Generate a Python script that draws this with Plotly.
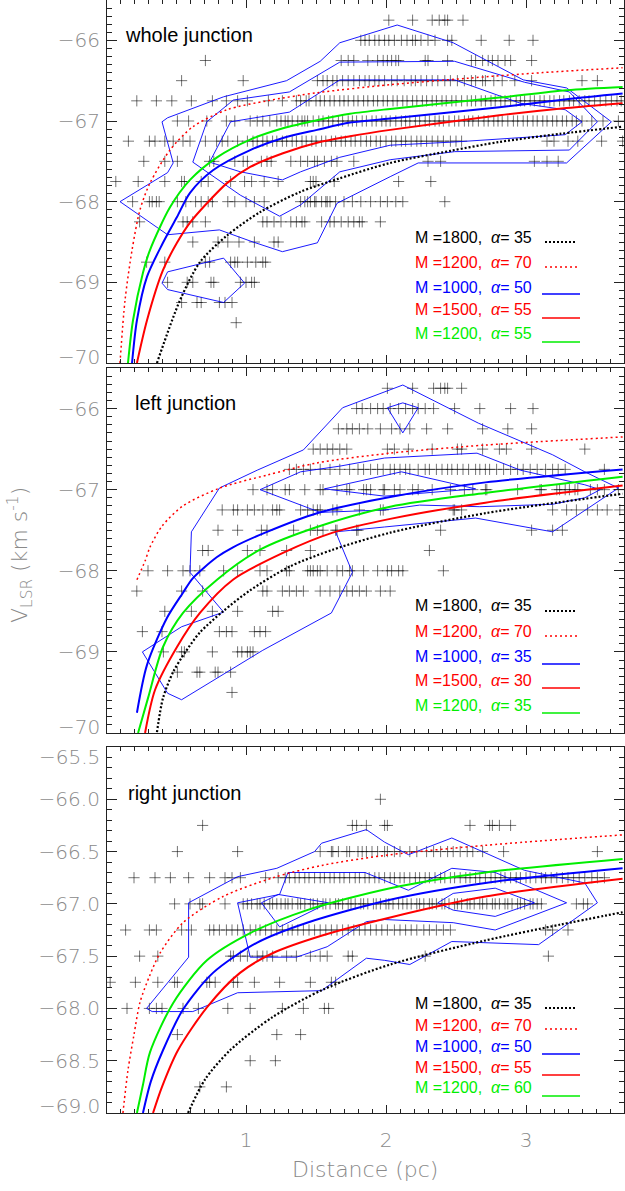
import plotly.graph_objects as go

# ======================= DATA =======================
# Cross rows: velocity channel (km/s) and positions (pc) of the crosses on that row
whole_rows = [-65.75, -66.0, -66.25, -66.5, -66.75, -67.0, -67.25, -67.5,
              -67.75, -68.0, -68.25, -68.5, -68.75, -69.0, -69.25, -69.5]
whole_x = [
    [2.02, 2.19, 2.33, 2.38, 2.42, 2.44, 2.55],
    [1.82, 1.85, 1.88, 1.92, 1.95, 1.99, 2.02, 2.06, 2.11, 2.15, 2.19, 2.21, 2.25, 2.30, 2.35, 2.44, 2.47, 2.68, 2.88, 3.05],
    [0.71, 1.68, 1.73, 1.77, 1.87, 1.94, 1.98, 2.01, 2.04, 2.07, 2.09, 2.28, 2.30, 2.44, 2.61, 2.64, 2.69, 2.73, 2.76, 2.80, 2.85, 2.89, 3.04],
    [0.54, 0.98, 1.51, 1.55, 1.58, 1.62, 1.65, 1.69, 1.73, 1.77, 1.81, 1.85, 1.88, 1.92, 1.95, 1.99, 2.04, 2.08, 2.13, 2.18,
     2.21, 2.25, 2.29, 2.33, 2.37, 2.42, 2.46, 2.51, 2.56, 2.61, 2.64, 2.69, 2.71, 2.77, 2.83, 2.92, 3.04, 3.40, 3.51],
    [0.22, 0.36, 0.47, 0.61, 0.76, 0.86, 0.94, 1.01, 1.16, 1.26, 1.36, 1.39, 1.43, 1.45, 1.50, 1.53, 1.56, 1.60, 1.63, 1.67,
     1.70, 1.73, 1.77, 1.80, 1.84, 1.87, 1.91, 1.94, 1.98, 2.01, 2.05, 2.08, 2.12, 2.15, 2.19, 2.22, 2.26, 2.29, 2.33, 2.36,
     2.40, 2.43, 2.47, 2.50, 2.54, 2.58, 2.61, 2.64, 2.68, 2.71, 2.75, 2.78, 2.82, 2.85, 2.89, 2.93, 2.96, 2.99, 3.03, 3.06,
     3.10, 3.13, 3.17, 3.20, 3.24, 3.27, 3.31, 3.34, 3.38, 3.42, 3.45, 3.49, 3.53, 3.57, 3.61, 3.65, 3.68],
    [0.51, 0.59, 0.72, 0.86, 0.92, 1.03, 1.08, 1.12, 1.17, 1.22, 1.25, 1.28, 1.30, 1.33, 1.37, 1.40, 1.42, 1.44, 1.48, 1.52,
     1.55, 1.59, 1.62, 1.66, 1.69, 1.73, 1.76, 1.79, 1.83, 1.86, 1.90, 1.93, 1.97, 2.00, 2.03, 2.07, 2.11, 2.14, 2.17, 2.21,
     2.24, 2.28, 2.31, 2.35, 2.38, 2.41, 2.45, 2.49, 2.52, 2.56, 2.59, 2.62, 2.66, 2.70, 2.73, 2.77, 2.80, 2.83, 2.87, 2.91,
     2.94, 2.98, 3.01, 3.05, 3.08, 3.12, 3.15, 3.19, 3.22, 3.26, 3.29, 3.33, 3.36, 3.40, 3.47, 3.55, 3.66],
    [0.16, 0.31, 0.35, 0.42, 0.48, 0.55, 0.60, 0.71, 0.79, 0.83, 0.87, 0.94, 1.01, 1.05, 1.08, 1.12, 1.15, 1.19, 1.22, 1.26,
     1.29, 1.33, 1.36, 1.40, 1.43, 1.47, 1.50, 1.54, 1.57, 1.61, 1.64, 1.68, 1.71, 1.75, 1.78, 1.82, 1.86, 1.89, 1.93, 1.96,
     2.00, 2.04, 2.07, 2.11, 2.14, 2.18, 2.22, 2.25, 2.29, 2.33, 2.37, 2.41, 2.46, 2.50, 2.54, 3.15, 3.20, 3.30, 3.37, 3.54, 3.69],
    [0.27, 0.42, 0.51, 0.74, 0.77, 0.92, 0.98, 1.01, 1.11, 1.15, 1.18, 1.32, 1.39, 1.44, 1.49, 1.51, 1.56, 1.61, 1.65, 1.77,
     2.30, 2.39, 3.06, 3.15, 3.23],
    [0.07, 0.23, 0.42, 0.54, 0.56, 0.68, 0.73, 0.89, 0.99, 1.04, 1.13, 1.23, 1.46, 1.48, 1.50, 1.63, 2.09, 2.32],
    [0.19, 0.31, 0.33, 0.36, 0.38, 0.51, 0.57, 0.64, 0.68, 0.73, 0.76, 0.87, 0.92, 1.00, 1.06, 1.13, 1.39, 1.42, 1.44, 1.46,
     1.49, 1.50, 1.54, 1.57, 1.58, 1.60, 1.64, 1.70, 1.76, 1.82, 1.89, 1.96, 2.01, 2.07, 2.12, 2.42],
    [0.24, 0.55, 0.58, 0.62, 0.71, 1.12, 1.15, 1.20, 1.25, 1.32, 1.36, 1.40, 1.42, 1.54, 1.60, 1.63, 1.68, 1.73, 1.77, 1.81, 1.83, 1.96],
    [0.62, 0.80, 0.87, 0.95, 1.06, 1.20, 1.23],
    [0.29, 0.42, 0.71, 0.74, 0.89, 0.92, 0.94, 1.01, 1.07, 1.12, 1.14],
    [0.44, 0.58, 0.62, 0.75, 0.77, 0.96, 1.00, 1.04, 1.06],
    [0.54, 0.65, 0.68, 0.81, 0.85, 0.90],
    [0.93],
]

left_rows = [-65.75, -66.0, -66.25, -66.5, -66.75, -67.0, -67.25, -67.5,
             -67.75, -68.0, -68.25, -68.5, -68.75, -69.0, -69.25, -69.5]
left_x = [
    [2.01, 2.19, 2.34, 2.39, 2.42, 2.44, 2.54],
    [1.79, 1.83, 1.89, 1.94, 1.98, 2.03, 2.09, 2.14, 2.19, 2.23, 2.28, 2.34, 2.49, 2.67, 2.89, 3.05],
    [1.66, 1.72, 1.76, 1.81, 1.87, 1.96, 2.04, 2.10, 2.17, 2.29, 2.44, 2.69, 2.87, 3.04],
    [1.48, 1.53, 1.58, 1.62, 1.67, 1.72, 2.01, 2.06, 2.16, 2.33, 2.51, 2.54, 2.69, 2.81, 2.86, 3.04, 3.42],
    [1.31, 1.36, 1.41, 1.46, 1.53, 1.60, 1.67, 1.74, 1.80, 1.84, 1.89, 1.94, 1.98, 2.03, 2.06, 2.10, 2.14, 2.17, 2.23, 2.28,
     2.31, 2.36, 2.40, 2.44, 2.47, 2.51, 2.55, 2.59, 2.64, 2.67, 2.71, 2.74, 2.79, 2.84, 2.89, 2.94, 2.98, 3.03, 3.08, 3.14,
     3.19, 3.23, 3.28, 3.56],
    [1.05, 1.15, 1.19, 1.28, 1.31, 1.42, 1.53, 1.55, 1.65, 1.72, 1.74, 1.84, 1.86, 1.89, 1.98, 1.99, 2.06, 2.10, 2.19, 2.23,
     2.33, 2.46, 2.56, 2.62, 2.71, 2.72, 2.94, 3.10, 3.11, 3.22, 3.24, 3.28, 3.31, 3.35, 3.37, 3.46, 3.51, 3.56, 3.66],
    [0.83, 0.91, 0.94, 1.01, 1.06, 1.12, 1.19, 1.22, 1.24, 1.39, 1.44, 1.48, 1.51, 1.53, 1.62, 1.65, 1.81, 1.96, 1.98, 2.48,
     2.49, 2.54, 3.19, 3.29, 3.36, 3.44, 3.51, 3.58, 3.67],
    [0.80, 0.94, 1.11, 1.15, 1.34, 1.46, 1.51, 1.55, 1.64, 1.65, 1.79, 1.80, 2.39, 3.04, 3.19, 3.26],
    [0.69, 0.73, 1.01, 1.10, 1.29, 1.46, 2.31],
    [0.30, 0.44, 0.55, 0.60, 0.67, 0.84, 0.94, 1.10, 1.15, 1.29, 1.31, 1.44, 1.46, 1.48, 1.51, 1.53, 1.58, 1.65, 1.69, 1.74,
     1.76, 1.84, 1.94, 2.01, 2.04, 2.09, 2.12, 2.41],
    [0.22, 0.54, 0.69, 1.12, 1.15, 1.26, 1.31, 1.36, 1.41, 1.53, 1.60, 1.67, 1.72, 1.76, 1.81, 1.86, 1.96, 2.03],
    [0.42, 0.61, 0.76, 0.94, 1.19, 1.23],
    [0.26, 0.40, 0.81, 0.86, 0.90, 1.06, 1.10, 1.14],
    [0.41, 0.54, 0.56, 0.76, 0.94, 0.97, 1.01, 1.03, 1.05],
    [0.51, 0.65, 0.67, 0.78, 0.80, 0.89],
    [0.90],
]

right_rows = [-66.0, -66.25, -66.5, -66.75, -67.0, -67.25, -67.5, -67.75,
              -68.0, -68.25, -68.5, -68.75]
right_x = [
    [1.96],
    [0.69, 1.76, 1.79, 1.86, 1.99, 2.01, 2.60, 2.74, 2.76, 2.81, 2.89],
    [0.51, 0.94, 1.53, 1.61, 1.62, 1.66, 1.72, 1.74, 1.80, 1.83, 1.86, 1.90, 1.94, 1.99, 2.01, 2.06, 2.10, 2.17, 2.22, 2.29,
     2.34, 2.39, 2.44, 2.48, 2.53, 2.58, 2.62, 2.69, 2.84, 3.51],
    [0.20, 0.35, 0.46, 0.59, 0.74, 0.85, 0.90, 0.96, 1.14, 1.23, 1.28, 1.31, 1.35, 1.38, 1.42, 1.45, 1.49, 1.53, 1.56, 1.60,
     1.63, 1.67, 1.70, 1.74, 1.78, 1.81, 1.85, 1.88, 1.92, 1.95, 1.99, 2.03, 2.06, 2.10, 2.13, 2.17, 2.21, 2.24, 2.28, 2.31,
     2.35, 2.39, 2.42, 2.46, 2.49, 2.53, 2.57, 2.60, 2.64, 2.67, 2.71, 2.75, 2.78, 2.82, 2.85, 2.89, 2.93, 2.96, 3.00, 3.03,
     3.07, 3.11, 3.14, 3.18, 3.22, 3.26, 3.30, 3.34, 3.38, 3.42, 3.47, 3.51, 3.56],
    [0.49, 0.60, 0.67, 0.69, 0.85, 0.98, 1.01, 1.04, 1.08, 1.10, 1.13, 1.17, 1.19, 1.22, 1.25, 1.28, 1.30, 1.33, 1.37, 1.39,
     1.42, 1.46, 1.48, 1.51, 1.55, 1.57, 1.60, 1.64, 1.66, 1.69, 1.73, 1.75, 1.78, 1.82, 1.84, 1.87, 1.91, 1.93, 1.96, 2.00,
     2.02, 2.05, 2.09, 2.12, 2.15, 2.18, 2.22, 2.24, 2.27, 2.31, 2.33, 2.36, 2.40, 2.42, 2.45, 2.49, 2.51, 2.54, 2.58, 2.60,
     2.63, 2.67, 2.69, 2.72, 2.76, 2.78, 2.81, 2.85, 2.87, 2.90, 2.94, 2.96, 2.99, 3.03, 3.05, 3.08, 3.11, 3.36, 3.41, 3.44],
    [0.14, 0.31, 0.36, 0.54, 0.61, 0.74, 0.77, 0.81, 0.86, 0.90, 0.94, 0.98, 1.03, 1.07, 1.10, 1.14, 1.18, 1.22, 1.26, 1.30,
     1.33, 1.37, 1.41, 1.45, 1.49, 1.53, 1.57, 1.61, 1.65, 1.69, 1.73, 1.77, 1.81, 1.85, 1.89, 1.93, 1.97, 2.01, 2.06, 2.10,
     2.14, 2.18, 2.22, 2.27, 2.31, 2.36, 2.41, 2.46, 3.14, 3.19, 3.30],
    [0.24, 0.37, 0.89, 0.91, 0.96, 1.01, 1.08, 1.12, 1.15, 1.19, 1.29, 1.36, 1.46, 1.53, 1.58, 1.73, 1.76, 2.28, 3.16],
    [0.03, 0.21, 0.37, 0.49, 0.51, 0.72, 0.74, 0.78, 0.91, 0.94, 1.06, 1.24, 1.46, 1.61, 1.64],
    [0.15, 0.31, 0.36, 0.40, 0.55, 0.66, 0.87, 1.03, 1.26, 1.41, 1.56, 1.59],
    [0.51, 1.22, 1.39],
    [1.03, 1.21],
    [0.67, 0.86],
]

# Model curves, legend order: black dotted, red dotted, blue, red, green
model_M = {"whole": [1800, 1200, 1000, 1500, 1200],
           "left": [1800, 1200, 1000, 1500, 1200],
           "right": [1800, 1200, 1000, 1500, 1200]}
model_alpha = {"whole": [35, 70, 50, 55, 55],
               "left": [35, 70, 35, 30, 35],
               "right": [35, 70, 50, 55, 60]}

whole_curves_x = [
    [0.364, 0.529, 0.671, 0.864, 1.10, 1.386, 1.67, 2.03, 2.46, 2.81, 3.24, 3.69],
    [0.10, 0.136, 0.186, 0.243, 0.314, 0.457, 0.621, 0.864, 1.15, 1.507, 2.03, 2.58, 3.12, 3.69],
    [0.186, 0.221, 0.293, 0.407, 0.507, 0.60, 0.764, 1.03, 1.264, 1.507, 1.743, 2.03, 2.81, 3.29, 3.69],
    [0.221, 0.293, 0.407, 0.507, 0.60, 0.721, 0.864, 1.03, 1.264, 1.507, 1.743, 2.03, 2.81, 3.29, 3.69],
    [0.157, 0.193, 0.264, 0.314, 0.457, 0.60, 0.793, 1.03, 1.264, 1.507, 1.743, 2.03, 2.81, 3.29, 3.69],
]
whole_curves_y = [
    [-70.0, -69.22, -68.75, -68.42, -68.13, -67.88, -67.71, -67.52, -67.37, -67.26, -67.16, -67.07],
    [-70.0, -69.22, -68.60, -68.10, -67.77, -67.36, -67.07, -66.86, -66.75, -66.65, -66.55, -66.47, -66.40, -66.34],
    [-70.0, -69.47, -68.93, -68.51, -68.19, -67.89, -67.61, -67.36, -67.21, -67.11, -67.02, -66.97, -66.83, -66.73, -66.66],
    [-70.0, -69.47, -68.85, -68.51, -68.26, -68.02, -67.77, -67.57, -67.40, -67.27, -67.19, -67.11, -66.93, -66.84, -66.78],
    [-70.0, -69.47, -68.88, -68.60, -68.07, -67.73, -67.45, -67.23, -67.09, -66.99, -66.91, -66.85, -66.71, -66.62, -66.58],
]

left_curves_x = [
    [0.364, 0.407, 0.479, 0.564, 0.671, 0.836, 1.03, 1.31, 1.62, 2.03, 2.71, 3.69],
    [0.221, 0.279, 0.314, 0.40, 0.55, 0.814, 1.15, 1.507, 2.03, 2.71, 3.69],
    [0.221, 0.293, 0.436, 0.55, 0.621, 0.793, 0.907, 1.15, 1.507, 2.03, 2.71, 3.69],
    [0.279, 0.35, 0.507, 0.671, 0.907, 1.264, 1.62, 2.03, 2.71, 3.69],
    [0.229, 0.30, 0.407, 0.55, 0.793, 1.10, 1.507, 2.03, 2.71, 3.69],
]
left_curves_y = [
    [-69.99, -69.57, -69.25, -69.01, -68.76, -68.50, -68.24, -67.95, -67.74, -67.53, -67.29, -67.05],
    [-68.11, -67.88, -67.71, -67.45, -67.20, -66.98, -66.82, -66.67, -66.55, -66.45, -66.35],
    [-69.75, -69.16, -68.58, -68.27, -68.09, -67.83, -67.71, -67.52, -67.29, -67.09, -66.91, -66.75],
    [-70.0, -69.47, -68.94, -68.52, -68.11, -67.78, -67.53, -67.36, -67.16, -66.95],
    [-70.0, -69.57, -68.94, -68.52, -68.11, -67.74, -67.46, -67.21, -67.04, -66.84],
]

right_curves_x = [
    [0.586, 0.707, 0.886, 1.193, 1.55, 2.03, 2.71, 3.24, 3.69],
    [0.121, 0.157, 0.20, 0.243, 0.314, 0.386, 0.55, 0.836, 1.193, 1.55, 2.03, 2.71, 3.69],
    [0.264, 0.32, 0.407, 0.55, 0.764, 1.08, 1.436, 2.03, 2.71, 3.69],
    [0.336, 0.40, 0.514, 0.721, 0.957, 1.193, 1.55, 2.03, 2.71, 3.69],
    [0.221, 0.264, 0.314, 0.479, 0.721, 1.03, 1.436, 2.03, 2.71, 3.69],
]
right_curves_y = [
    [-69.0, -68.68, -68.40, -68.08, -67.82, -67.58, -67.35, -67.20, -67.08],
    [-69.0, -68.59, -68.25, -67.94, -67.68, -67.47, -67.18, -66.93, -66.75, -66.63, -66.53, -66.44, -66.34],
    [-69.0, -68.70, -68.40, -68.01, -67.66, -67.37, -67.18, -66.96, -66.80, -66.66],
    [-69.0, -68.75, -68.40, -67.99, -67.66, -67.47, -67.30, -67.13, -66.93, -66.76],
    [-69.0, -68.73, -68.42, -67.95, -67.54, -67.28, -67.06, -66.85, -66.70, -66.57],
]

# Density contours (pc, km/s)
whole_contours_x = [
    [0.10, 0.44, 0.48, 0.40, 0.44, 0.84, 1.29, 1.53, 1.67, 2.08, 2.48, 2.98, 3.29, 3.61, 3.29, 2.23, 2.03, 1.65, 1.51, 1.26, 1.05, 0.81, 0.44, 0.10],
    [0.72, 0.91, 1.31, 1.67, 2.49, 2.99, 3.31, 3.51, 3.31, 2.49, 2.03, 1.67, 1.39, 1.24, 0.96, 0.62, 0.72],
    [0.74, 0.89, 1.31, 1.67, 2.49, 2.96, 3.28, 3.40, 3.28, 2.49, 2.03, 1.67, 1.39, 1.26, 0.96, 0.74],
    [0.40, 0.44, 0.84, 0.99, 0.84, 0.44, 0.40],
]
whole_contours_y = [
    [-68.00, -67.64, -67.52, -67.01, -66.96, -66.70, -66.50, -66.26, -66.03, -65.81, -66.03, -66.49, -66.59, -67.01, -67.52, -67.52, -67.69, -68.02, -68.51, -68.62, -68.50, -68.35, -68.41, -68.00],
    [-67.01, -66.74, -66.64, -66.27, -66.26, -66.52, -66.64, -67.01, -67.36, -67.38, -67.48, -67.63, -68.04, -68.18, -67.92, -67.51, -67.01],
    [-67.51, -67.01, -66.89, -66.49, -66.49, -66.78, -66.86, -67.01, -67.17, -67.26, -67.30, -67.45, -67.63, -67.73, -67.63, -67.51],
    [-69.01, -68.87, -68.70, -69.01, -69.25, -69.09, -69.01],
]

left_contours_x = [
    [0.26, 0.54, 0.84, 0.60, 0.61, 0.81, 1.08, 1.41, 1.69, 2.12, 2.66, 3.19, 3.42, 3.66, 3.19, 2.64, 1.99, 1.64, 1.76, 1.61, 1.12, 0.54, 0.44, 0.26],
    [1.10, 1.39, 1.67, 1.99, 2.65, 2.96, 3.42, 3.53, 3.42, 3.19, 2.67, 2.24, 1.99, 1.53, 1.10],
    [1.56, 2.11, 2.64, 1.99, 1.56],
    [2.01, 2.12, 2.23, 2.12, 2.01],
]
left_contours_y = [
    [-69.00, -68.69, -68.51, -68.02, -67.52, -66.98, -66.76, -66.51, -65.99, -65.71, -66.18, -66.57, -66.78, -66.98, -67.52, -67.35, -67.46, -67.52, -68.02, -68.52, -68.98, -69.59, -69.51, -69.00],
    [-67.00, -66.78, -66.71, -66.61, -66.55, -66.76, -66.94, -67.00, -67.10, -67.18, -67.21, -67.19, -67.25, -67.28, -67.00],
    [-66.99, -66.78, -66.99, -67.08, -66.99],
    [-65.99, -65.93, -65.99, -66.30, -65.99],
]

right_contours_x = [
    [0.29, 0.59, 0.59, 0.94, 1.22, 1.49, 1.54, 1.86, 1.99, 2.16, 2.47, 2.99, 3.42, 3.51, 3.29, 3.09, 2.47, 2.17, 1.99, 1.86, 1.54, 0.94, 0.62, 0.33, 0.29],
    [0.94, 1.24, 1.30, 1.85, 2.16, 2.47, 2.78, 3.29, 2.78, 2.48, 1.99, 1.86, 1.58, 1.36, 1.03, 0.94],
    [1.11, 1.23, 1.59, 1.24, 1.11],
    [2.37, 2.48, 2.78, 3.06, 2.78, 2.48, 2.37],
]
right_contours_y = [
    [-68.00, -67.51, -66.99, -66.74, -66.66, -66.50, -66.42, -66.29, -66.41, -66.53, -66.37, -66.68, -66.80, -66.99, -67.20, -67.39, -67.36, -67.58, -67.54, -67.52, -67.83, -67.85, -68.03, -68.03, -68.00],
    [-66.99, -66.91, -66.70, -66.70, -66.87, -66.66, -66.70, -66.99, -67.25, -67.18, -67.15, -67.17, -67.41, -67.51, -67.51, -66.99],
    [-66.99, -66.91, -66.99, -67.22, -66.99],
    [-66.99, -66.90, -66.85, -66.99, -67.12, -67.06, -66.99],
]

panel_titles = ["whole junction", "left junction", "right junction"]
x_ticks = [1, 2, 3]
whole_yticks = [-69, -68, -67, -66]
left_yticks = [-69, -68, -67, -66]
right_yticks = [-68.5, -68.0, -67.5, -67.0, -66.5, -66.0]
# end-of-axis labels drawn slightly inside the frame (as in the original)
whole_end_labels = [-70]
left_end_labels = [-70]
right_end_labels = [-69.0, -65.5]

# ======================= STYLE / LAYOUT =======================
W, H = 625, 1191
ML, MR, MT, MB = 107, 1, 0, 78
PW, PH = W - ML - MR, H - MT - MB

def paper(px, py):
    return (px - ML) / PW, (PH - (py - MT)) / PH

panels = [
    dict(top=0, bot=363, yr=[-70, -65.5], ticks=whole_yticks, fmt="d", rows=whole_rows, xs=whole_x,
         cx=whole_curves_x, cy=whole_curves_y, kx=whole_contours_x, ky=whole_contours_y, key="whole",
         ends=whole_end_labels, end_py=[357],
         label_px=(123, 35), leg_text=[238, 262, 287, 310, 333], leg_line=[242, 267, 294, 318, 342]),
    dict(top=368, bot=733, yr=[-70, -65.5], ticks=left_yticks, fmt="d", rows=left_rows, xs=left_x,
         cx=left_curves_x, cy=left_curves_y, kx=left_contours_x, ky=left_contours_y, key="left",
         ends=left_end_labels, end_py=[727],
         label_px=(133, 403), leg_text=[605, 631, 656, 680, 705], leg_line=[611, 636, 664, 688, 713]),
    dict(top=747, bot=1113, yr=[-69, -65.5], ticks=right_yticks, fmt=".1f", rows=right_rows, xs=right_x,
         cx=right_curves_x, cy=right_curves_y, kx=right_contours_x, ky=right_contours_y, key="right",
         ends=right_end_labels, end_py=[1106, 757],
         label_px=(126, 793), leg_text=[1003, 1025, 1046, 1067, 1087], leg_line=[1008, 1029, 1054, 1075, 1096]),
]

curve_styles = [
    dict(color="black", width=2.2, dash="2px,2px"),
    dict(color="#ff0000", width=1.5, dash="2px,3px"),
    dict(color="#0000ff", width=2.0, dash="solid"),
    dict(color="#ff0000", width=2.0, dash="solid"),
    dict(color="#00ee00", width=2.0, dash="solid"),
]
legend_colors = ["black", "#ff0000", "#0000ff", "#ff0000", "#00ee00"]

GREY = "#8a8a8a"
TICK_FONT = dict(family="DejaVu Sans", size=20, color=GREY, weight=300)
TXT_FAMILY = "Liberation Sans, Arial, Helvetica, sans-serif"

fig = go.Figure()

for i, p in enumerate(panels):
    sfx = "" if i == 0 else str(i + 1)
    xa, ya = "x" + sfx, "y" + sfx
    # crosses
    xs, ys = [], []
    for v, row in zip(p["rows"], p["xs"]):
        xs.extend(row)
        ys.extend([v] * len(row))
    fig.add_trace(go.Scatter(x=xs, y=ys, mode="markers", xaxis=xa, yaxis=ya,
                             marker=dict(symbol="cross-thin", size=8,
                                         line=dict(width=1, color="rgba(0,0,0,0.55)")),
                             hoverinfo="skip"))
    # contours
    for kx, ky in zip(p["kx"], p["ky"]):
        fig.add_trace(go.Scatter(x=kx, y=ky, mode="lines", xaxis=xa, yaxis=ya,
                                 line=dict(color="#0000ff", width=0.9), hoverinfo="skip"))
    # model curves
    for st, cx, cy in zip(curve_styles, p["cx"], p["cy"]):
        fig.add_trace(go.Scatter(x=cx, y=cy, mode="lines", xaxis=xa, yaxis=ya,
                                 line=dict(color=st["color"], width=st["width"], dash=st["dash"],
                                           shape="spline", smoothing=0.8),
                                 hoverinfo="skip"))

    y0 = (PH - (p["bot"] - MT)) / PH
    y1 = (PH - (p["top"] - MT)) / PH
    xaxis = dict(domain=[0, 1], anchor=ya, range=[(107 - 106) / 140, 3.70], automargin=False,
                 showline=True, linecolor="#222", linewidth=1.2, mirror="allticks",
                 ticks="inside", ticklen=8, tickwidth=1, tickcolor="#222",
                 tickmode="array", tickvals=x_ticks, ticktext=[str(t) for t in x_ticks],
                 minor=dict(ticks="inside", ticklen=4, dtick=0.1, tick0=0, tickcolor="#222", tickwidth=1),
                 showgrid=False, zeroline=False, showticklabels=(i == 2),
                 tickfont=TICK_FONT, ticklabelstandoff=9)
    yaxis = dict(domain=[max(0, y0), min(1, y1)], anchor=xa, range=p["yr"], automargin=False,
                 showline=True, linecolor="#222", linewidth=1.2, mirror="allticks",
                 ticks="inside", ticklen=10, tickwidth=1, tickcolor="#222",
                 tickmode="array", tickvals=p["ticks"], tickformat=p["fmt"],
                 minor=dict(ticks="inside", ticklen=5, dtick=0.1, tick0=-70, tickcolor="#222", tickwidth=1),
                 showgrid=False, zeroline=False, tickfont=TICK_FONT, ticklabelstandoff=2)
    fig.update_layout(**{"xaxis" + sfx: xaxis, "yaxis" + sfx: yaxis})

    # end labels of the y axis
    for val, py in zip(p["ends"], p["end_py"]):
        ex, ey = paper(106, py)
        txt = ("{:" + (".1f" if p["fmt"] == ".1f" else ".0f") + "}").format(val).replace("-", "\u2212")
        fig.add_annotation(x=ex, y=ey, xref="paper", yref="paper", text=txt, showarrow=False,
                           xanchor="right", yanchor="middle", xshift=-4, font=TICK_FONT)

    # panel label
    lx, ly = paper(*p["label_px"])
    fig.add_annotation(x=lx, y=ly, xref="paper", yref="paper", text=panel_titles[i],
                       showarrow=False, xanchor="left", yanchor="middle",
                       font=dict(family=TXT_FAMILY, size=20, color="black"))
    # legend
    Ms = model_M[p["key"]]
    As = model_alpha[p["key"]]
    for j in range(5):
        tx, ty = paper(413, p["leg_text"][j])
        fig.add_annotation(x=tx, y=ty, xref="paper", yref="paper",
                           text=f"M ={Ms[j]},  <i>α</i>= {As[j]}",
                           showarrow=False, xanchor="left", yanchor="middle",
                           font=dict(family=TXT_FAMILY, size=16, color=legend_colors[j]))
        st = curve_styles[j]
        if j < 2:
            x0p, _ = paper(545, 0)
            x1p, _ = paper(577, 0)
            lw = 2 if j == 0 else 1.5
        else:
            x0p, _ = paper(542, 0)
            x1p, _ = paper(580, 0)
            lw = 1.3
        _, lyp = paper(0, p["leg_line"][j])
        fig.add_shape(type="line", xref="paper", yref="paper", x0=x0p, x1=x1p, y0=lyp, y1=lyp,
                      line=dict(color=st["color"], width=lw, dash=st["dash"]))

# axis titles
tx, ty = paper(365, 1170)
fig.add_annotation(x=tx, y=ty, xref="paper", yref="paper", text="Distance (pc)", showarrow=False,
                   xanchor="center", yanchor="middle",
                   font=dict(family="DejaVu Sans", size=22, color=GREY, weight=300))
tx, ty = paper(20, 555)
fig.add_annotation(x=tx, y=ty, xref="paper", yref="paper",
                   text="V<sub>LSR</sub> (km s<sup>-1</sup>)", showarrow=False, textangle=-90,
                   xanchor="center", yanchor="middle",
                   font=dict(family="DejaVu Sans", size=22, color=GREY, weight=300))

fig.update_layout(width=W, height=H, margin=dict(l=ML, r=MR, t=MT, b=MB, autoexpand=False),
                  plot_bgcolor="white", paper_bgcolor="white", showlegend=False)

# the page's default 8px body margin would shift the figure; remove it
fig.write_html("out.html", config={"displayModeBar": False},
               post_script="document.body.style.margin='0px';document.body.style.padding='0px';")
